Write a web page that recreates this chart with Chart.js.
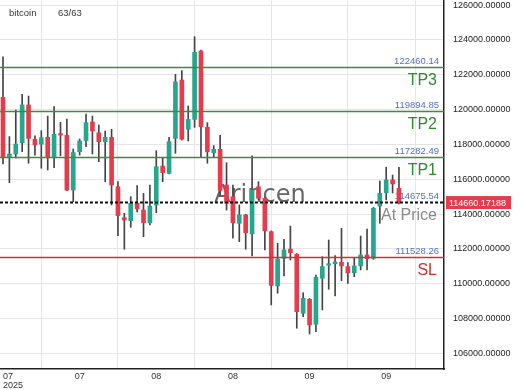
<!DOCTYPE html>
<html><head><meta charset="utf-8">
<script src="https://cdn.jsdelivr.net/npm/chart.js@4.4.0/dist/chart.umd.min.js"></script>
<style>html,body{margin:0;padding:0;background:#fff;overflow:hidden}#wrap{width:520px;height:390px}</style>
</head><body><div id="wrap"><canvas id="c" width="520" height="390"></canvas></div>
<script>
const symbolName = 'bitcoin';
const counterText = '63/63';
const watermark = 'Arincen';
const opens  = [120710,117260,117450,118100,120270,118300,118020,118410,117240,118620,118530,115380,117580,118220,119290,118670,118160,118410,115570,113790,113620,114620,114230,113500,114520,116760,116340,118350,121700,118870,119440,123370,118990,117520,117720,115670,115000,113470,113950,112860,115570,114910,112990,109870,111460,111980,111690,108300,109100,107670,110310,111060,111150,111230,110980,110630,111020,111650,111460,114460,115230,115960,115480];
const highs  = [123040,118450,119980,120880,120780,118490,118790,119630,120170,119270,119460,117740,118310,119750,119630,119120,118770,118870,115860,114040,115000,115640,115190,115670,117640,117200,118410,122030,122240,120210,124190,123420,119250,117930,118530,116950,115670,114520,113990,117340,115860,114950,113030,112320,112550,113310,111730,109480,109150,110500,111550,112510,111610,113180,111210,111460,112740,113130,114380,115900,116690,116240,116690];
const lows   = [116880,115800,117220,117580,116920,117390,116630,116530,116660,117350,115340,114710,117390,117870,117450,117010,115860,114520,112760,111980,113240,114120,112700,113370,114080,115860,116300,117490,118250,118200,118980,117300,116920,117260,115040,114230,112610,112410,111980,111590,114810,111940,108780,109450,110440,111360,107440,108100,107110,107240,108490,109680,109290,110170,110020,110400,110790,110790,111400,113470,114810,115210,114580];
const closes = [117260,117450,118020,120270,118350,117970,118390,117240,118580,118540,115380,117530,118200,119250,118770,118160,118410,115670,113910,113660,114620,114300,113500,114460,116720,116380,118160,121600,118300,119440,123290,119020,117580,117720,115360,114620,113500,113950,112930,115380,114910,113040,109900,111420,111940,111780,108390,109160,107630,110370,110980,111130,111250,111020,110630,111020,111650,111440,114330,115190,115960,115730,114660.17];
const xTickIndex  = [0, 12, 24, 36, 48, 60];
const xTickLabels = [['07','2025'], '07', '08', '08', '09', '09'];
const yTicks = [106000,108000,110000,112000,114000,116000,118000,120000,122000,124000,126000];
const levelNames  = ['TP3', 'TP2', 'TP1', 'SL'];
const levelValues = [122460.14, 119894.85, 117282.49, 111528.26];
const lastPrice = 114660.17188;
const atPriceValue = 114675.54;
const atPriceName = 'At Price';

const TEAL = '#26a68c', RED = '#e83a4a', GREEN = '#3c8c3c', SLRED = '#cc3333', BLUE = '#5470c6';
const X_MIN = -0.47, X_MAX = 69.05;
const FONT = '"Liberation Sans", Arial, sans-serif';

const idx = opens.map((_, i) => i);

const overlay = {
  id: 'overlay',
  beforeDatasetsDraw(chart) {
    const {ctx, chartArea: a, scales: {y}} = chart;
    ctx.save();
    ctx.font = '24px "DejaVu Sans", sans-serif';
    ctx.fillStyle = 'rgba(75,75,75,0.85)';
    ctx.textAlign = 'center';
    ctx.textBaseline = 'alphabetic';
    ctx.fillText(watermark, 260, 202);
    // level labels
    ctx.textAlign = 'right';
    levelValues.forEach((v, k) => {
      const py = y.getPixelForValue(v);
      ctx.font = '9.5px ' + FONT;
      ctx.fillStyle = BLUE;
      ctx.fillText(v.toFixed(2), a.right - 5, py - 3);
      ctx.font = '16px ' + FONT;
      ctx.fillStyle = levelNames[k] === 'SL' ? SLRED : '#2e8b2e';
      ctx.fillText(levelNames[k], a.right - 7, py + 18);
    });
    const pa = y.getPixelForValue(atPriceValue);
    ctx.font = '9.5px ' + FONT;
    ctx.fillStyle = BLUE;
    ctx.fillText(atPriceValue.toFixed(2), a.right - 5, pa - 3);
    ctx.font = '16px ' + FONT;
    ctx.fillStyle = '#8a8a8a';
    ctx.fillText(atPriceName, a.right - 7, pa + 18);
    ctx.restore();
  },
  afterDatasetsDraw(chart) {
    const {ctx, chartArea: a, scales: {y}} = chart;
    ctx.save();
    levelValues.forEach((v, k) => {
      const py = Math.round(y.getPixelForValue(v)) + 0.5;
      ctx.strokeStyle = levelNames[k] === 'SL' ? SLRED : GREEN;
      ctx.lineWidth = 1.5;
      ctx.beginPath(); ctx.moveTo(a.left, py); ctx.lineTo(a.right, py); ctx.stroke();
    });
    const pl = y.getPixelForValue(lastPrice);
    ctx.strokeStyle = '#111';
    ctx.lineWidth = 2;
    ctx.setLineDash([3, 2]);
    ctx.beginPath(); ctx.moveTo(a.left, pl); ctx.lineTo(a.right, pl); ctx.stroke();
    ctx.setLineDash([]);
    // price tag
    ctx.fillStyle = RED;
    ctx.fillRect(a.right + 2, pl - 6.5, 65, 13);
    ctx.fillStyle = '#fff';
    ctx.font = '9px ' + FONT;
    ctx.textAlign = 'left';
    ctx.textBaseline = 'middle';
    ctx.fillText(lastPrice.toFixed(5), a.right + 5, pl + 0.5);
    // header
    ctx.fillStyle = '#333';
    ctx.font = '9.5px ' + FONT;
    ctx.fillText(symbolName, 9, 13);
    ctx.fillText(counterText, 58, 13);
    ctx.restore();
  }
};

new Chart(document.getElementById('c'), {
  type: 'bar',
  data: {
    datasets: [
      {
        label: 'body',
        data: idx.map(i => ({x: i, y: [opens[i], closes[i]]})),
        backgroundColor: idx.map(i => closes[i] >= opens[i] ? TEAL : RED),
        borderWidth: 0,
        barThickness: 4,
        minBarLength: 1.5,
        grouped: false,
        order: 1
      },
      {
        label: 'wick',
        data: idx.map(i => ({x: i, y: [lows[i], highs[i]]})),
        backgroundColor: '#444',
        borderWidth: 0,
        barThickness: 1,
        grouped: false,
        order: 2
      }
    ]
  },
  options: {
    responsive: false,
    animation: false,
    devicePixelRatio: 1,
    layout: {padding: 0},
    plugins: {legend: {display: false}, tooltip: {enabled: false}},
    scales: {
      x: {
        type: 'linear', min: X_MIN, max: X_MAX, offset: false,
        grid: {color: '#e6e6e6', drawTicks: false},
        border: {color: '#222', width: 1.5},
        ticks: {
          align: 'inner', autoSkip: false, maxRotation: 0, padding: 3,
          color: '#333', font: {family: FONT, size: 9, lineHeight: 1.0},
          callback: (v) => { const k = xTickIndex.indexOf(v); return k >= 0 ? xTickLabels[k] : ''; }
        },
        afterBuildTicks: (s) => { s.ticks = xTickIndex.concat([X_MAX]).map(v => ({value: v})); },
        afterFit: (s) => { s.height = 21; s.paddingLeft = 0; s.paddingRight = 0; }
      },
      y: {
        type: 'linear', position: 'right', min: 105098, max: 126298,
        grid: {color: '#e6e6e6', drawTicks: false},
        border: {color: '#222', width: 1.5},
        ticks: {
          padding: 9, color: '#222', font: {family: FONT, size: 9},
          callback: (v) => Number(v).toFixed(5)
        },
        afterBuildTicks: (s) => { s.ticks = yTicks.map(v => ({value: v})); },
        afterFit: (s) => { s.width = 76; s.paddingTop = 0; s.paddingBottom = 0; }
      }
    }
  },
  plugins: [overlay]
});
</script>
</body></html>
